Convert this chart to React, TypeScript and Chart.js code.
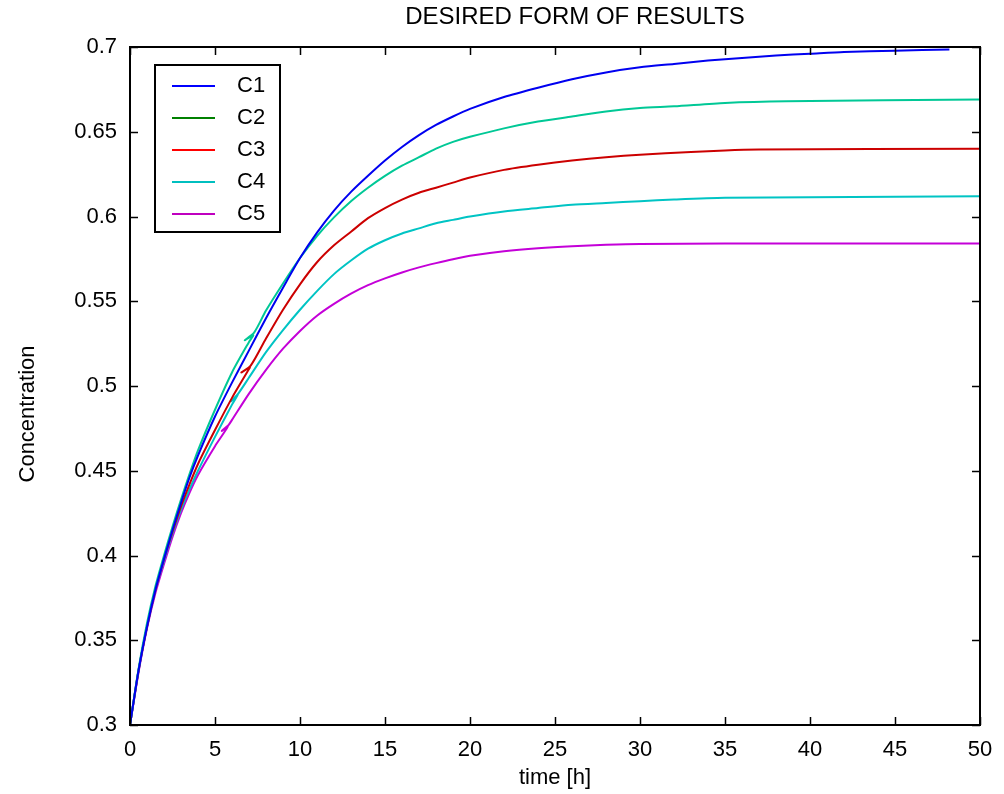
import React, { useEffect, useRef } from "react";
import { Chart, registerables } from "chart.js";

Chart.register(...registerables);

const TITLE = "DESIRED FORM OF RESULTS";
const X_LABEL = "time [h]";
const Y_LABEL = "Concentration";
const SERIES_NAMES = ["C1", "C2", "C3", "C4", "C5"];
const LINE_COLORS = ["#0000f0", "#00c896", "#cc0000", "#00c4c4", "#c400d8"];
const LEGEND_COLORS = ["#0000ff", "#008000", "#ff0000", "#00bfbf", "#bf00bf"];

const X_MIN = 0;
const X_MAX = 50;
const X_STEP = 5;
const Y_MIN = 0.3;
const Y_MAX = 0.7;
const Y_STEP = 0.05;

const T_C1 = [0, 0.5, 1, 1.5, 2, 2.5, 3, 3.5, 4, 5, 6, 7, 8, 9, 10, 11, 12, 13, 14, 15, 16, 17, 18, 19, 20, 22, 24, 26, 28, 30, 32, 34, 36, 38, 40, 42, 45, 48.2];
const C1 = [0.300, 0.332, 0.358, 0.380, 0.398, 0.415, 0.431, 0.446, 0.459, 0.482, 0.502, 0.521, 0.540, 0.558, 0.5755, 0.5905, 0.6035, 0.6145, 0.624, 0.633, 0.641, 0.648, 0.654, 0.659, 0.6635, 0.6705, 0.676, 0.681, 0.685, 0.688, 0.690, 0.692, 0.6935, 0.695, 0.696, 0.697, 0.6978, 0.6985];

const T_C2 = [0, 0.5, 1, 1.5, 2, 2.5, 3, 3.5, 4, 5, 6, 7, 7.25, 6.75, 7.3, 8, 9, 10, 11, 12, 13, 14, 15, 16, 17, 18, 19, 20, 22, 24, 26, 28, 30, 32, 35, 38.6, 50];
const C2 = [0.300, 0.333, 0.360, 0.382, 0.400, 0.417, 0.433, 0.448, 0.462, 0.486, 0.508, 0.526, 0.530, 0.527, 0.5315, 0.5445, 0.5605, 0.5755, 0.5885, 0.5995, 0.609, 0.617, 0.624, 0.630, 0.635, 0.640, 0.644, 0.647, 0.652, 0.656, 0.659, 0.662, 0.664, 0.665, 0.667, 0.668, 0.669];

const T_C3 = [0, 0.5, 1, 1.5, 2, 2.5, 3, 3.5, 4, 5, 6, 7, 7.05, 6.55, 7.1, 8, 9, 10, 11, 12, 13, 14, 15, 16, 17, 18, 19, 20, 22, 24, 26, 28, 30, 33, 35, 37, 50];
const C3 = [0.300, 0.332, 0.358, 0.380, 0.398, 0.414, 0.429, 0.442, 0.454, 0.474, 0.493, 0.510, 0.511, 0.508, 0.512, 0.528, 0.545, 0.560, 0.573, 0.583, 0.591, 0.599, 0.605, 0.610, 0.614, 0.617, 0.620, 0.623, 0.6275, 0.6305, 0.633, 0.635, 0.6365, 0.638, 0.639, 0.6395, 0.640];

const T_C4 = [0, 0.5, 1, 1.5, 2, 2.5, 3, 3.5, 4, 5, 6, 6.35, 5.95, 6.4, 7, 8, 9, 10, 11, 12, 13, 14, 15, 16, 17, 18, 19, 20, 22, 24, 26, 28, 30, 32, 35, 50];
const C4 = [0.300, 0.332, 0.358, 0.380, 0.397, 0.413, 0.427, 0.439, 0.450, 0.470, 0.489, 0.495, 0.491, 0.496, 0.505, 0.520, 0.533, 0.545, 0.556, 0.566, 0.574, 0.581, 0.586, 0.590, 0.593, 0.596, 0.598, 0.600, 0.603, 0.605, 0.607, 0.608, 0.609, 0.610, 0.611, 0.612];

const T_C5 = [0, 0.5, 1, 1.5, 2, 2.5, 3, 3.5, 4, 5, 5.75, 5.4, 5.8, 6, 7, 8, 9, 10, 11, 12, 13, 14, 15, 16, 17, 18, 19, 20, 22, 24, 26, 28, 30, 35, 50];
const C5 = [0.300, 0.331, 0.357, 0.378, 0.395, 0.411, 0.425, 0.437, 0.4475, 0.4645, 0.476, 0.4735, 0.477, 0.480, 0.4955, 0.5095, 0.522, 0.5325, 0.5415, 0.5485, 0.5545, 0.5595, 0.5635, 0.567, 0.570, 0.5725, 0.5748, 0.5768, 0.5795, 0.5813, 0.5825, 0.5833, 0.5838, 0.584, 0.584];

const TIMES = [T_C1, T_C2, T_C3, T_C4, T_C5];
const VALUES = [C1, C2, C3, C4, C5];

const FONT = "'Liberation Sans', Arial, Helvetica, sans-serif";

const framePlugin = {
  id: "matlabFrame",
  afterDraw(chart: any) {
    const { ctx, chartArea } = chart;
    const { left, right, top, bottom } = chartArea;
    const xs = chart.scales.x;
    const ys = chart.scales.y;
    const tick = 8;
    ctx.save();
    ctx.strokeStyle = "#000";
    ctx.lineWidth = 2;
    ctx.lineCap = "butt";
    ctx.beginPath();
    ctx.rect(left, top, right - left, bottom - top);
    ctx.stroke();
    ctx.lineWidth = 1.5;
    ctx.beginPath();
    xs.ticks.forEach((t: any) => {
      const px = Math.round(xs.getPixelForValue(t.value)) + 0.5;
      ctx.moveTo(px, bottom);
      ctx.lineTo(px, bottom - tick);
      ctx.moveTo(px, top);
      ctx.lineTo(px, top + tick);
    });
    ys.ticks.forEach((t: any) => {
      const py = Math.round(ys.getPixelForValue(t.value)) + 0.5;
      ctx.moveTo(left, py);
      ctx.lineTo(left + tick, py);
      ctx.moveTo(right, py);
      ctx.lineTo(right - tick, py);
    });
    ctx.stroke();

    // titles
    ctx.fillStyle = "#000";
    ctx.font = `24px ${FONT}`;
    ctx.textAlign = "center";
    ctx.textBaseline = "middle";
    ctx.fillText(TITLE, (left + right) / 2 + 20, 17);
    ctx.font = `22px ${FONT}`;
    ctx.fillText(X_LABEL, (left + right) / 2, 778);
    ctx.save();
    ctx.translate(28, (top + bottom) / 2 + 28);
    ctx.rotate(-Math.PI / 2);
    ctx.fillText(Y_LABEL, 0, 0);
    ctx.restore();

    // legend
    const lx = left + 25;
    const ly = top + 18;
    const lw = 125;
    const lh = 167;
    ctx.fillStyle = "#fff";
    ctx.fillRect(lx, ly, lw, lh);
    ctx.strokeStyle = "#000";
    ctx.lineWidth = 2;
    ctx.strokeRect(lx, ly, lw, lh);
    ctx.font = `22px ${FONT}`;
    ctx.textAlign = "left";
    ctx.textBaseline = "middle";
    chart.data.datasets.forEach((ds: any, i: number) => {
      const yy = ly + 21 + i * 32;
      ctx.strokeStyle = LEGEND_COLORS[i];
      ctx.lineWidth = 2;
      ctx.beginPath();
      ctx.moveTo(lx + 17, yy);
      ctx.lineTo(lx + 60, yy);
      ctx.stroke();
      ctx.fillStyle = "#000";
      ctx.fillText(ds.label, lx + 82, yy);
    });
    ctx.restore();
  },
};

export default function App() {
  const ref = useRef<HTMLCanvasElement | null>(null);

  useEffect(() => {
    const canvas = ref.current;
    if (!canvas) return;
    const datasets = SERIES_NAMES.map((name, i) => ({
      label: name,
      data: TIMES[i].map((t, k) => ({ x: t, y: VALUES[i][k] })),
      borderColor: LINE_COLORS[i],
      backgroundColor: LINE_COLORS[i],
      borderWidth: 2,
      pointRadius: 0,
      showLine: true,
      tension: 0.25,
      fill: false,
    }));
    const chart = new Chart(canvas, {
      type: "scatter",
      data: { datasets },
      options: {
        responsive: false,
        animation: false,
        devicePixelRatio: 1,
        layout: { padding: { top: 47, right: 24, left: 0, bottom: 0 } },
        plugins: {
          legend: { display: false },
          title: { display: false },
          tooltip: { enabled: false },
        },
        scales: {
          x: {
            type: "linear",
            min: X_MIN,
            max: X_MAX,
            grid: { display: false },
            border: { display: false },
            ticks: {
              stepSize: X_STEP,
              color: "#000",
              font: { family: FONT, size: 22 },
              padding: 4,
              maxRotation: 0,
            },
            afterFit(scale: any) {
              scale.height = 69;
            },
          },
          y: {
            type: "linear",
            min: Y_MIN,
            max: Y_MAX,
            grid: { display: false },
            border: { display: false },
            ticks: {
              stepSize: Y_STEP,
              color: "#000",
              font: { family: FONT, size: 22 },
              padding: 5,
              callback: (v: any) => String(+Number(v).toFixed(2)),
            },
            afterFit(scale: any) {
              scale.width = 130;
            },
          },
        },
      },
      plugins: [framePlugin],
    });
    return () => chart.destroy();
  }, []);

  return (
    <div style={{ position: "fixed", left: 0, top: 0, width: 1004, height: 794, background: "#fff" }}>
      <canvas ref={ref} width={1004} height={794} style={{ width: 1004, height: 794, display: "block" }} />
    </div>
  );
}
